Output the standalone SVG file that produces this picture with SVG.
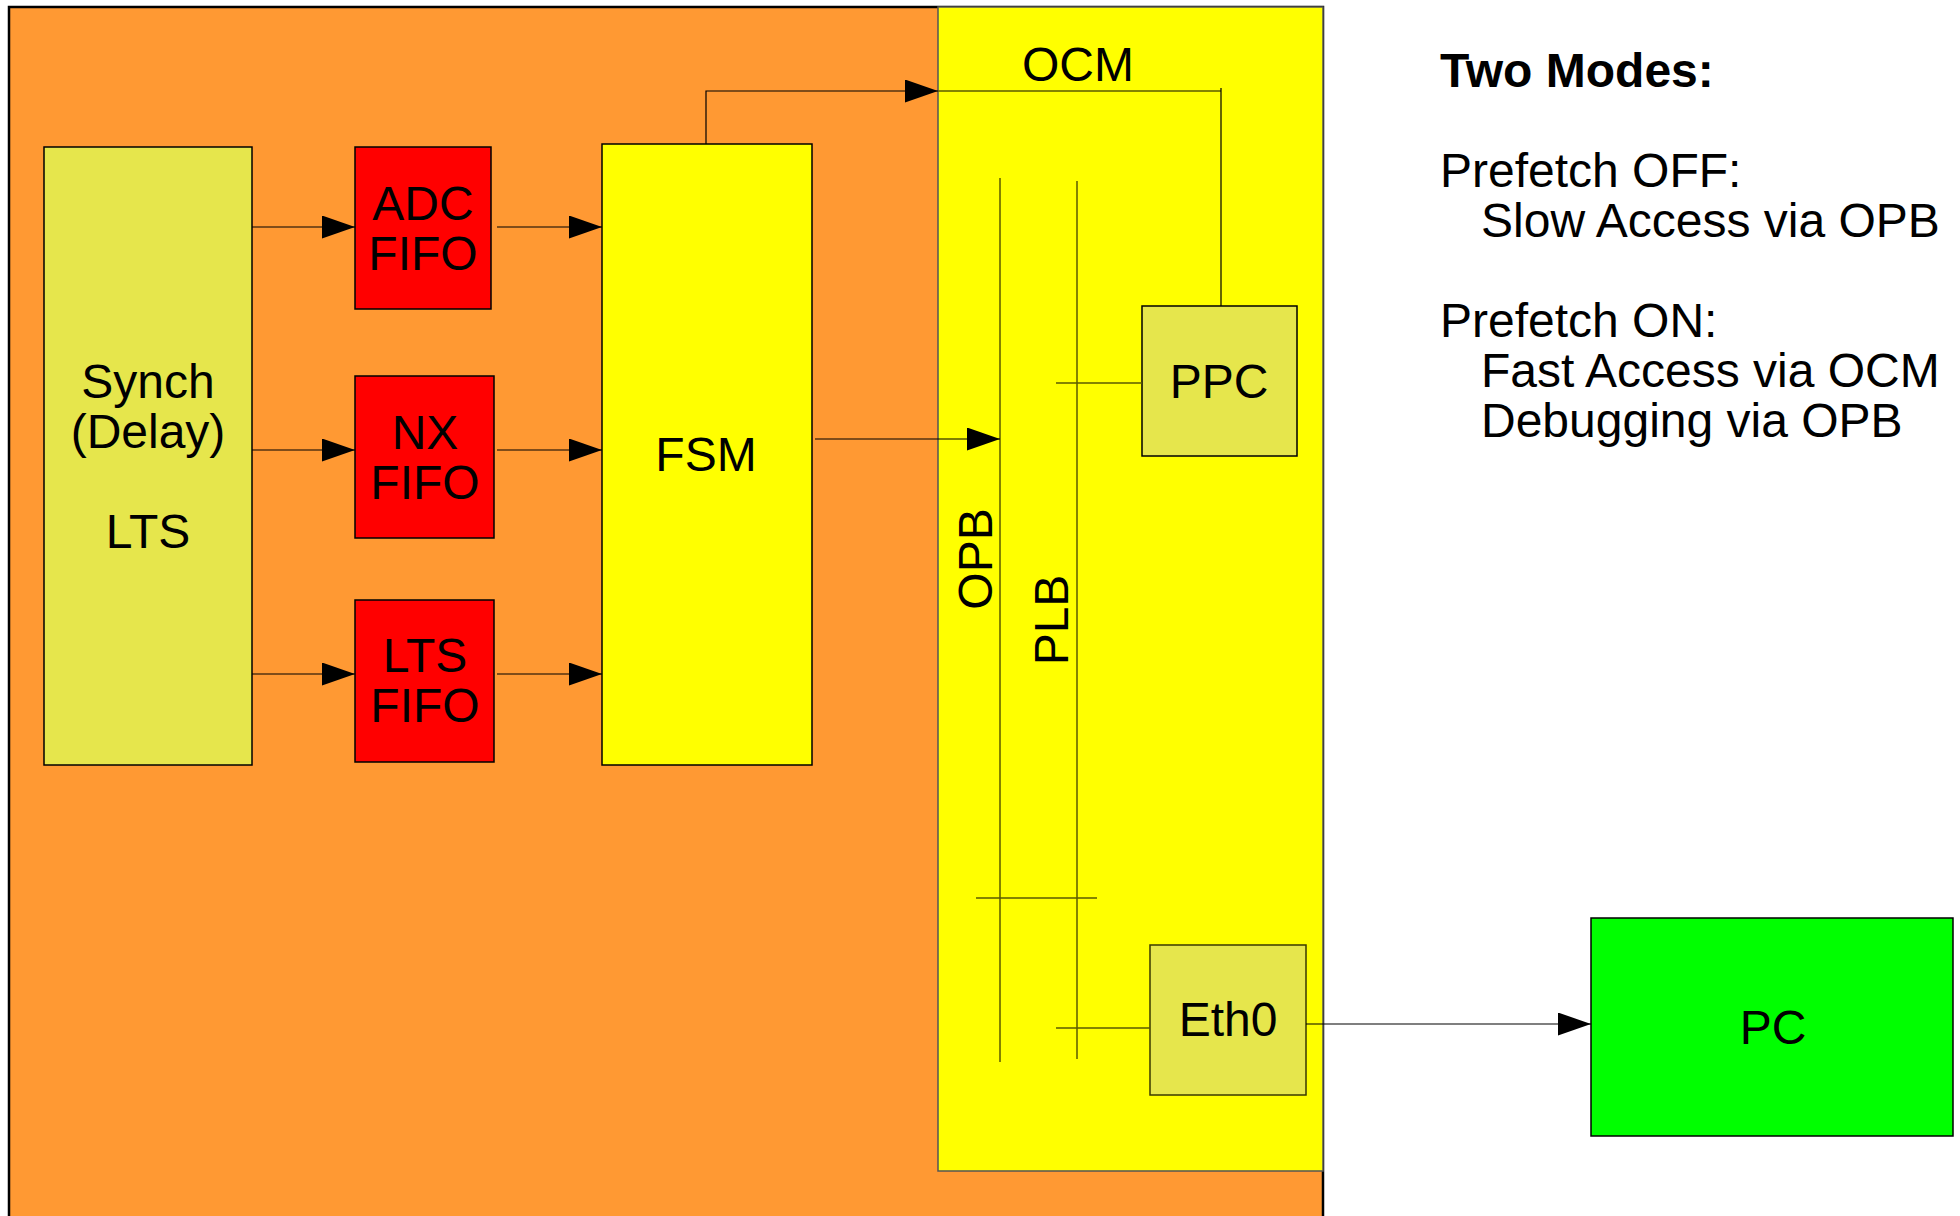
<svg xmlns="http://www.w3.org/2000/svg" width="1960" height="1216" viewBox="0 0 1960 1216">
<style>
text{font-family:"Liberation Sans",Arial,sans-serif;font-size:48px;fill:#000}
.c{text-anchor:middle}
.b{font-weight:bold}
.box{stroke:#000;stroke-width:1.5}
.ln{stroke:#000;stroke-width:1.2;fill:none}
.lnd{stroke:#5a5a00;stroke-width:1.5;fill:none}
</style>
<defs>
<marker id="ah" markerUnits="userSpaceOnUse" markerWidth="34" markerHeight="24" refX="33" refY="11.5" orient="auto">
<path d="M0,0 L33,11.5 L0,23 Z" fill="#000"/>
</marker>
</defs>
<rect width="1960" height="1216" fill="#fff"/>
<g id="fpga">
<rect x="9" y="7" width="1314" height="1215" fill="#FF9933" stroke="#000" stroke-width="2.5"/>
</g>
<g id="ppc-area">
<rect x="938" y="7" width="385" height="1164" fill="#FFFF00" stroke="#555" stroke-width="1.5"/>
<text class="c" x="1078" y="81">OCM</text>
</g>
<g id="synch">
<rect class="box" x="44" y="147" width="208" height="618" fill="#E6E64C"/>
<text class="c" x="148" y="398">Synch</text>
<text class="c" x="148" y="448">(Delay)</text>
<text class="c" x="148" y="548">LTS</text>
</g>
<g id="adc-fifo">
<rect class="box" x="355" y="147" width="136" height="162" fill="#FF0000"/>
<text class="c" x="423" y="220">ADC</text>
<text class="c" x="423" y="270">FIFO</text>
</g>
<g id="nx-fifo">
<rect class="box" x="355" y="376" width="139" height="162" fill="#FF0000"/>
<text class="c" x="425" y="449">NX</text>
<text class="c" x="425" y="499">FIFO</text>
</g>
<g id="lts-fifo">
<rect class="box" x="355" y="600" width="139" height="162" fill="#FF0000"/>
<text class="c" x="425" y="672">LTS</text>
<text class="c" x="425" y="722">FIFO</text>
</g>
<g id="fsm">
<rect class="box" x="602" y="144" width="210" height="621" fill="#FFFF00"/>
<text class="c" x="706" y="471">FSM</text>
</g>
<g id="opb">
<line class="lnd" x1="1000" y1="178" x2="1000" y2="1062"/>
<text class="c" transform="translate(992,559) rotate(-90)">OPB</text>
</g>
<g id="plb">
<line class="lnd" x1="1077" y1="181" x2="1077" y2="1059"/>
<text class="c" transform="translate(1068,620) rotate(-90)">PLB</text>
</g>
<g id="ppc">
<rect class="box" x="1142" y="306" width="155" height="150" fill="#E6E64C"/>
<text class="c" x="1219" y="398">PPC</text>
</g>
<g id="eth0">
<rect x="1150" y="945" width="156" height="150" fill="#E6E64C" stroke="#3a3a00" stroke-width="1.5"/>
<text class="c" x="1228" y="1036">Eth0</text>
</g>
<g id="pc">
<rect class="box" x="1591" y="918" width="362" height="218" fill="#00FF00"/>
<text class="c" x="1773" y="1044">PC</text>
</g>
<g id="notes">
<text class="b" x="1440" y="87">Two Modes:</text>
<text x="1440" y="187">Prefetch OFF:</text>
<text x="1481" y="237">Slow Access via OPB</text>
<text x="1440" y="337">Prefetch ON:</text>
<text x="1481" y="387">Fast Access via OCM</text>
<text x="1481" y="437">Debugging via OPB</text>
</g>
<g id="connectors">
<line class="ln" x1="252" y1="227" x2="355" y2="227" marker-end="url(#ah)"/>
<line class="ln" x1="497" y1="227" x2="602" y2="227" marker-end="url(#ah)"/>
<line class="ln" x1="252" y1="450" x2="355" y2="450" marker-end="url(#ah)"/>
<line class="ln" x1="497" y1="450" x2="602" y2="450" marker-end="url(#ah)"/>
<line class="ln" x1="252" y1="674" x2="355" y2="674" marker-end="url(#ah)"/>
<line class="ln" x1="497" y1="674" x2="602" y2="674" marker-end="url(#ah)"/>
<polyline class="ln" points="706,144 706,91 938,91" marker-end="url(#ah)"/>
<polyline class="lnd" points="938,91 1221,91"/>
<line class="ln" x1="1221" y1="88" x2="1221" y2="306"/>
<line class="ln" x1="815" y1="439" x2="1000" y2="439" marker-end="url(#ah)"/>
<line class="lnd" x1="1056" y1="383" x2="1142" y2="383"/>
<line class="lnd" x1="976" y1="898" x2="1097" y2="898"/>
<line class="lnd" x1="1056" y1="1028" x2="1150" y2="1028"/>
<line class="ln" x1="1306" y1="1024" x2="1591" y2="1024" marker-end="url(#ah)"/>
</g>
</svg>
